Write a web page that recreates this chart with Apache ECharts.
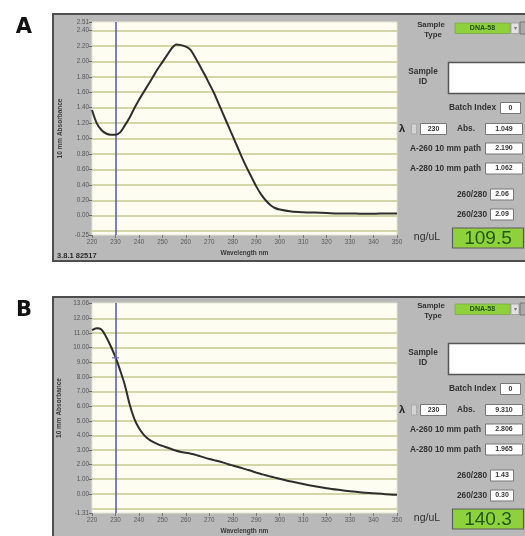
<!DOCTYPE html>
<html>
<head>
<meta charset="utf-8">
<script src="https://cdn.jsdelivr.net/npm/echarts@6/dist/echarts.min.js"></script>
<style>html,body{margin:0;padding:0;background:#fff;}#c{width:525px;height:536px;}</style>
</head>
<body>
<div id="c"></div>
<script>
// ---- data ----
const wavelengths = [220,222,224,226,228,230,232,234,236,238,240,242,244,246,248,250,252,254,256,258,260,262,264,266,268,270,272,274,276,278,280,282,284,286,288,290,292,294,296,298,300,305,310,315,320,325,330,335,340,345,350];
const absA = [1.37,1.20,1.11,1.065,1.05,1.05,1.08,1.17,1.27,1.39,1.50,1.60,1.70,1.80,1.90,1.99,2.08,2.17,2.22,2.21,2.19,2.15,2.05,1.94,1.83,1.71,1.59,1.45,1.31,1.17,1.03,0.89,0.75,0.62,0.50,0.38,0.28,0.20,0.14,0.10,0.08,0.055,0.045,0.04,0.035,0.03,0.03,0.025,0.025,0.03,0.03];
const absB = [11.2,11.33,11.25,10.75,10.1,9.35,8.45,7.45,6.15,5.15,4.5,4.05,3.75,3.55,3.4,3.28,3.17,3.05,2.95,2.87,2.81,2.75,2.68,2.58,2.48,2.39,2.31,2.23,2.14,2.03,1.94,1.85,1.76,1.66,1.56,1.45,1.36,1.27,1.19,1.11,1.03,0.84,0.67,0.52,0.39,0.28,0.18,0.10,0.04,-0.02,-0.06];
const yTicksA = [2.51,2.40,2.20,2.00,1.80,1.60,1.40,1.20,1.00,0.80,0.60,0.40,0.20,0.00,-0.25];
const yGridA = [2.40,2.20,2.00,1.80,1.60,1.40,1.20,1.00,0.80,0.60,0.40,0.20,0.00,-0.20];
const yTicksB = [13.06,12,11,10,9,8,7,6,5,4,3,2,1,0,-1.31];
const yGridB = [12,11,10,9,8,7,6,5,4,3,2,1,0,-1];
const panelLetters = ['A','B'];
const sampleType = ['DNA-58','DNA-58'];
const batchIndex = ['0','0'];
const lambdaSel = [230,230];
const absAtLambda = ['1.049','9.310'];
const a260 = ['2.190','2.806'];
const a280 = ['1.062','1.965'];
const ratio260280 = ['2.06','1.43'];
const ratio260230 = ['2.09','0.30'];
const concentration = ['109.5','140.3'];
const versionText = ['3.8.1 82517','3.8.1 B2517'];

// ---- chart ----
const FONT = 'Liberation Sans, Arial, sans-serif';
const chart = echarts.init(document.getElementById('c'), null, {renderer:'canvas'});

const gridTops = [22, 303];
const gridH = [213, 212];
const frameTops = [14, 297];
const panelDy = [0, 281];

function txt(x, y, s, opt) {
  opt = opt || {};
  return {type:'text', z: 20, style:{
    x:x, y:y, text:s, fill: opt.fill || '#333',
    font: (opt.weight || 'bold') + ' ' + (opt.size || 8) + 'px ' + (opt.family || FONT),
    align: opt.align || 'center', verticalAlign:'middle'
  }};
}
function box(x, y, w, h, fill, stroke, lw) {
  return {type:'rect', z: 15, shape:{x:x, y:y, width:w, height:h},
    style:{fill: fill || '#fff', stroke: stroke || '#6a6a6a', lineWidth: lw || 1}};
}

const LBL = 8.3;
const VAL = 7;
const graphics = [];
for (let i = 0; i < 2; i++) {
  const d = panelDy[i];
  // frame
  graphics.push({type:'rect', z:-10, shape:{x:53, y:frameTops[i], width:490, height:247},
    style:{fill:'#b9b9b9', stroke:'#4e4e4e', lineWidth:2}});
  // letter
  graphics.push({type:'text', z:20, style:{x:24, y:frameTops[i]+14, text:panelLetters[i],
    fill:'#111', font:'900 21px "DejaVu Sans", Arial, sans-serif', align:'center', verticalAlign:'middle'}});
  // version
  graphics.push(txt(57, frameTops[i]+242, versionText[i], {size:7.5, align:'left', fill:'#2a2a2a'}));
  // sample type
  graphics.push(txt(431, 25+d, 'Sample', {size:LBL-0.5}));
  graphics.push(txt(433, 35+d, 'Type', {size:LBL-0.5}));
  graphics.push(box(455, 23+d, 55, 10.5, '#8fd13c', '#7aa84a', 0.8));
  graphics.push(txt(482.5, 28.5+d, sampleType[i], {size:VAL, fill:'#1e4f12'}));
  graphics.push(box(511, 23+d, 8, 10.5, '#e2e2e2', '#9a9a9a', 0.8));
  graphics.push(txt(515, 28.5+d, '▾', {size:6, fill:'#777', weight:'normal'}));
  graphics.push(box(520, 22+d, 10, 12, '#a9a9a9', '#6a6a6a', 0.8));
  // sample ID
  graphics.push(txt(423, 72+d, 'Sample', {size:LBL}));
  graphics.push(txt(423, 82+d, 'ID', {size:LBL}));
  graphics.push(box(448.5, 62.5+d, 80, 31, '#ffffff', '#555', 1.5));
  // batch index
  graphics.push(txt(496, 108+d, 'Batch Index', {size:LBL, align:'right'}));
  graphics.push(box(500.5, 102.5+d, 20, 11, '#ffffff', '#777', 1));
  graphics.push(txt(510.5, 108+d, batchIndex[i], {size:VAL}));
  // lambda row
  graphics.push(txt(402, 129+d, 'λ', {size:11, fill:'#222'}));
  graphics.push(box(411.5, 124+d, 5, 10, '#d4d4d4', '#999', 0.6));
  graphics.push(box(420.5, 123.5+d, 26, 11, '#ffffff', '#777', 1));
  graphics.push(txt(433.5, 129+d, String(lambdaSel[i]), {size:VAL}));
  graphics.push(txt(466, 129+d, 'Abs.', {size:LBL}));
  graphics.push(box(485.5, 123.5+d, 37, 11, '#ffffff', '#777', 1));
  graphics.push(txt(504, 129+d, absAtLambda[i], {size:VAL}));
  // A-260
  graphics.push(txt(481, 148.5+d, 'A-260 10 mm path', {size:LBL, align:'right'}));
  graphics.push(box(485.5, 143+d, 37, 11, '#ffffff', '#777', 1));
  graphics.push(txt(504, 148.5+d, a260[i], {size:VAL}));
  // A-280
  graphics.push(txt(481, 168.5+d, 'A-280 10 mm path', {size:LBL, align:'right'}));
  graphics.push(box(485.5, 163+d, 37, 11, '#ffffff', '#777', 1));
  graphics.push(txt(504, 168.5+d, a280[i], {size:VAL}));
  // ratios
  graphics.push(txt(487, 194.5+d, '260/280', {size:LBL, align:'right'}));
  graphics.push(box(490.5, 189+d, 23, 11, '#ffffff', '#777', 1));
  graphics.push(txt(502, 194.5+d, ratio260280[i], {size:VAL}));
  graphics.push(txt(487, 214.5+d, '260/230', {size:LBL, align:'right'}));
  graphics.push(box(490.5, 209+d, 23, 11, '#ffffff', '#777', 1));
  graphics.push(txt(502, 214.5+d, ratio260230[i], {size:VAL}));
  // concentration
  graphics.push(txt(427, 237.5+d, 'ng/uL', {size:10.5, fill:'#2f2f2f', weight:'normal'}));
  graphics.push(box(452.5, 228+d, 71, 20, '#8fd13c', '#5c5c5c', 1.2));
  graphics.push(txt(488, 239+d, concentration[i], {size:19, fill:'#1d5a16', weight:'normal'}));
}

function makeGrid(i) {
  return {left:92, top:gridTops[i], width:305, height:gridH[i], show:true,
    backgroundColor:'#fdfdf2', borderColor:'#e6e6d2', borderWidth:1};
}
function makeX(i) {
  return {type:'value', gridIndex:i, min:220, max:350, interval:10, position:'bottom',
    axisLine:{show:false, onZero:false}, splitLine:{show:false},
    axisTick:{show:true, length:3, lineStyle:{color:'#777'}},
    axisLabel:{fontSize:6.3, color:'#5a5a5a', margin:4, fontFamily:FONT},
    name:'Wavelength nm', nameLocation:'middle', nameGap:15,
    nameTextStyle:{fontSize:6.5, fontWeight:'bold', color:'#3a3a3a', fontFamily:FONT}};
}
function makeY(i, ticks, mn, mx) {
  return {type:'value', gridIndex:i, min:mn, max:mx,
    axisLine:{show:false, onZero:false}, splitLine:{show:false},
    axisTick:{show:true, length:3, customValues:ticks, lineStyle:{color:'#666'}},
    axisLabel:{fontSize:6.3, color:'#555', margin:3, customValues:ticks, fontFamily:FONT,
      formatter:function(v){return Number(v).toFixed(2);}},
    name:'10 mm Absorbance', nameLocation:'middle', nameGap:25, nameRotate:90,
    nameTextStyle:{fontSize:6.5, fontWeight:'bold', color:'#3a3a3a', fontFamily:FONT}};
}
function gridSeries(i, vals) {
  return {type:'line', xAxisIndex:i, yAxisIndex:i, data:[], z:1, silent:true,
    markLine:{silent:true, symbol:['none','none'], label:{show:false},
      lineStyle:{color:'#d3d6a6', width:2, type:'solid'}, animation:false,
      data: vals.map(v => ({yAxis:v}))}};
}
function curveSeries(i, vals) {
  return {type:'line', xAxisIndex:i, yAxisIndex:i, z:5, smooth:0.3, showSymbol:false,
    lineStyle:{color:'#2e2e2e', width:2}, animation:false,
    data: wavelengths.map((w,k) => [w, vals[k]]),
    markLine:{silent:true, symbol:['none','none'], label:{show:false}, animation:false,
      lineStyle:{color:'#5454b0', width:1.5, type:'solid'},
      data:[{xAxis:lambdaSel[i]}]}};
}

chart.setOption({
  animation:false,
  backgroundColor:'#ffffff',
  grid:[makeGrid(0), makeGrid(1)],
  xAxis:[makeX(0), makeX(1)],
  yAxis:[makeY(0, yTicksA, -0.25, 2.51), makeY(1, yTicksB, -1.31, 13.06)],
  series:[
    gridSeries(0, yGridA), gridSeries(1, yGridB),
    curveSeries(0, absA), curveSeries(1, absB),
    {type:'scatter', xAxisIndex:1, yAxisIndex:1, z:6, silent:true,
      symbol:'path://M4,0H6V4H10V6H6V10H4V6H0V4H4Z', symbolSize:7,
      itemStyle:{color:'#6a6ac0'}, data:[[lambdaSel[1], Number(absAtLambda[1])]]}
  ],
  graphic: graphics
});
</script>
</body>
</html>
